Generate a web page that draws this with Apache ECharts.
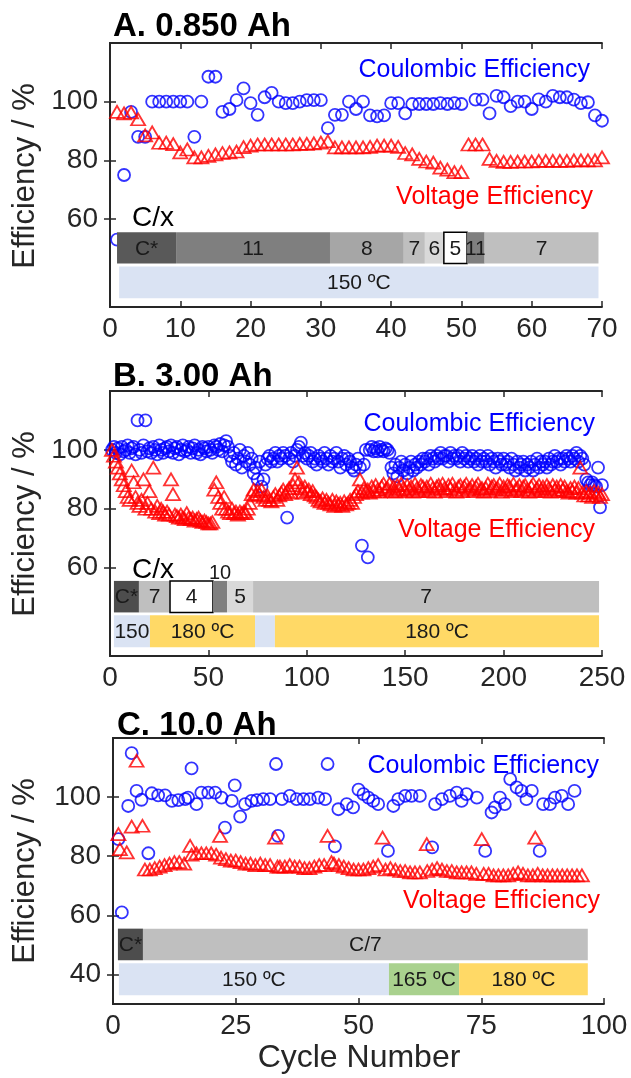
<!DOCTYPE html>
<html>
<head>
<meta charset="utf-8">
<script src="https://cdn.jsdelivr.net/npm/echarts@6/dist/echarts.min.js"></script>
<style>
  html, body { margin: 0; padding: 0; background: #fff; }
  #chart { width: 631px; height: 1078px; }
</style>
</head>
<body>
<div id="chart"></div>
<script>
// ---- panel A: 0.850 Ah (one value per cycle, '-' = no point)
const aCE = [
  53, 75, 96.5, 88, 88, 100, 100, 100, 100, 100,
  100, 88, 100, 108.5, 108.5, 96.5, 97.5, 100.5, 104.5, 99.5,
  95.5, 101.5, 103, 100, 99.5, 99.5, 100, 100.5, 100.5, 100.5,
  91, 95.5, 95.5, 100, 97.5, 100, 95.3, 95, 95.3, 99.5,
  99.5, 96, 99.2, 99.2, 99.2, 99.2, 99.5, 99.2, 99.5, 99.2,
  '-', 100.7, 100.7, 96, 102, 101.5, 98.5, 100, 100, 97.5,
  100.8, 100, 102, 101.5, 101.5, 100.7, 99.5, 99.8, 95.3, 93.5
];
const aVE = [
  96.5, 96, 96.3, 94, 88.5, 89.5, 86, 86, 85.5, 82.7,
  83.7, 81, 81, 81.5, 82, 82.5, 82.7, 83, 84.5, 85,
  85.4, 85.4, 85.4, 85.4, 85.4, 85.4, 85.6, 85.6, 85.8, 86,
  86.5, 84.4, 84.4, 84.4, 84.4, 84.4, 84.6, 85, 85, 85,
  84.6, 82.5, 82, 80.5, 79.6, 79.2, 77.5, 76.8, 76, 76,
  85.4, 85.4, 85.4, 80.5, 79.8, 79.5, 79.5, 79.6, 79.6, 79.6,
  79.8, 79.8, 79.8, 79.8, 79.8, 80, 80, 80, 80, 81
];
const aRates = [[1, 9.4, 'C*'], [9.4, 31.3, '11'], [31.3, 41.8, '8'], [41.8, 44.8, '7'],
  [44.8, 47.5, '6'], [47.5, 50.8, '5'], [50.8, 53.3, '11'], [53.3, 69.5, '7']];
const aRateFill = ['#595959', '#7f7f7f', '#a6a6a6', '#bfbfbf', '#d9d9d9', 'box', '#7f7f7f', '#bfbfbf'];
const aTemps = [[1.3, 69.5, '150 ºC']];
const aTempFill = ['#dae3f3'];

// ---- panel B: 3.00 Ah (one value per cycle)
const bCE = [
  100, 101, 99, 100.5, 98.5, 101, 99.5, 100, 101.5, 99,
  100.5, 101, 98.5, 110, 100, 99, 101.5, 110, 99.5, 100.5,
  99, 101, 100, 98.5, 101.5, 100, 99, 100.5, 101, 99.5,
  101.5, 99, 100.5, 101, 98.5, 100, 101.5, 99.5, 100, 101,
  99, 100.5, 101.5, 99, 100, 98.5, 101, 100.5, 99.5, 101,
  100, 99, 101.5, 101, 100, 102, 99.5, 101.5, 103, 101,
  98, 96, 99, 95, 97, 100, 94, 98, 96, 99,
  95, 97, 92, 94, 90, 96, 87.5, 90, 95, 97,
  98, 96, 97, 99, 96, 98, 97, 99, 98, 77,
  97, 99, 96, 98, 100, 101, 102.5, 98, 99, 97,
  98, 99, 96, 97, 95, 98, 97, 96, 99, 97,
  95, 98, 96, 97, 99, 96, 94, 97, 98, 95,
  97, 96, 94, 93, 95, 97, 94, 67.5, 95, 100,
  63.5, 100, 101, 99.5, 100.5, 99.5, 101, 100, 99.5, 100.5,
  100, 99, 94, 92, 95, 91, 94, 96, 93, 95,
  92, 94, 96, 93, 95, 94, 96, 95, 97, 96,
  97, 95, 98, 97, 96, 98, 97, 99, 97, 98,
  98, 96, 99, 97, 98, 97, 98, 96, 99, 97,
  98, 96, 97, 98, 96, 97, 95, 98, 96, 97,
  96, 98, 95, 97, 96, 94, 97, 96, 95, 97,
  95, 96, 94, 97, 95, 93, 96, 94, 95, 96,
  93, 95, 94, 96, 93, 95, 97, 94, 96, 95,
  96, 94, 97, 95, 96, 98, 96, 97, 95, 97,
  96, 98, 97, 96, 98, 97, 99, 96, 98, 97,
  95, 90, 89, 88, 89, 88, 87.5, 94, 80.5, 88
];
const bVE = [
  100, 98, 96, 94, 92, 90, 88, 86, 84, 83,
  93, 89, 84, 82, 81, 83, 90, 80, 82, 86,
  80, 94, 79, 81, 78.5, 80, 79, 78, 79, 78,
  90, 85, 78, 77.5, 77, 78, 77, 76.5, 78.5, 77,
  76.5, 77, 76, 76.5, 77, 76, 75.5, 76, 75.5, 75,
  75, 75.5, 86.5, 89, 84, 82, 80, 84, 80, 79,
  78.5, 80, 78.5, 79, 78, 79, 78.5, 79, 78.5, 80,
  82, 85, 86.5, 84.5, 86, 85, 86.5, 84, 83, 84.5,
  83, 82.5, 84, 85, 83, 84.5, 85.5, 86.5, 85, 86,
  87, 85.5, 88, 90, 94, 89, 87, 85.5, 87.5, 86,
  86.5, 85, 86, 84.5, 84, 83, 82.5, 83.5, 82, 83,
  82, 81.5, 83, 81, 82.5, 81.5, 82, 81, 82.5, 81.5,
  82, 83, 82, 84, 85, 86, 90, 85.5, 87, 86,
  86.5, 85.5, 87.5, 86, 88, 86.5, 85.8, 87.5, 88.5, 86.5,
  87, 88.5, 86, 87.5, 85.8, 88, 86.5, 88.5, 87, 86,
  88, 86.5, 87.5, 85.8, 88.5, 87, 86, 88, 87.5, 86.5,
  87.5, 86, 88.5, 87, 85.8, 87.5, 88, 86.5, 88.5, 87,
  86, 88, 87, 88.5, 86.5, 85.8, 87.5, 88, 86, 87.5,
  88.5, 86.5, 87, 88, 86, 87.5, 88.5, 86.5, 87, 85.8,
  87, 88.5, 86, 87.5, 88, 86.5, 87, 88.5, 85.8, 87.5,
  86.5, 88, 87.5, 86, 88.5, 86.5, 87, 88, 86, 87.5,
  88, 86.5, 85.8, 87.5, 88.5, 86, 87, 88, 86.5, 87.5,
  86, 88, 87, 85.8, 88, 86.5, 87.5, 86, 88, 86.5,
  87.5, 86, 85.5, 87, 86, 87.5, 85.5, 87, 94, 85.5,
  84.5, 86, 84.5, 85.5, 84, 86, 84.5, 85.5, 84, 85
];
const bRates = [[2, 14.7, 'C*'], [14.7, 30.5, '7'], [30.5, 52.3, '4'], [52.3, 59.5, ''],
  [59.5, 72.7, '5'], [72.7, 248.5, '7']];
const bRateFill = ['#4d4d4d', '#bfbfbf', 'box', '#7f7f7f', '#d9d9d9', '#bfbfbf'];
const bTemps = [[2, 20.3, '150'], [20.3, 73.7, '180 ºC'], [73.7, 83.8, ''], [83.8, 248.5, '180 ºC']];
const bTempFill = ['#dae3f3', '#ffd966', '#dae3f3', '#ffd966'];

// ---- panel C: 10.0 Ah ([cycle, value])
const cCE = [
  [1.1, 85.8], [1.8, 61], [3.1, 97], [3.8, 114.9], [4.8, 102.1], [5.8, 99.1], [7.2, 81], [7.9, 101.3],
  [9.2, 100.6], [10.6, 100.6], [12, 98.7], [13.3, 99], [14.7, 99.3], [15.3, 99.8], [16, 109.7],
  [17, 97.6], [18, 101.5], [19.4, 101.5], [20.8, 101.5], [22.1, 99.8], [22.8, 89.7], [24.2, 98.7],
  [24.8, 104], [25.9, 93.4], [26.9, 97.6], [28.2, 98.7], [29.3, 99], [30.6, 99.3], [32, 99.3],
  [33.2, 111.2], [33.6, 86.9], [34.4, 99.3], [36, 100.4], [37.4, 99.3], [38.8, 99.3], [40.1, 99.3],
  [41.8, 99.8], [43.2, 99.3], [43.7, 111.2], [45.2, 83.3], [45.9, 95.9], [47.6, 97.6], [48.9, 96.5],
  [50, 102.5], [51, 101], [52, 99.8], [53, 98.7], [54, 97.6], [56, 81.8], [57.1, 97], [58.1, 99.3],
  [59.5, 100.4], [60.8, 100.4], [62.5, 100.4], [65, 83], [65.6, 97.6], [67, 99.3], [68.6, 100.4],
  [70, 101.5], [71, 98.7], [72, 101], [74.1, 99.8], [75.8, 81.8], [77.1, 94.8], [77.8, 96.5],
  [78.8, 99.8], [79.8, 97.6], [80.9, 106.1], [82.2, 103.3], [83.2, 102.1], [84.2, 99.3],
  [85.3, 102.1], [86.9, 81.8], [87.6, 97.6], [89, 97.6], [90, 99.8], [91.4, 100.4], [92.7, 97.6],
  [94, 102.1]
];
const cVE = [
  [1.1, 87.5], [1.4, 82.4], [2.8, 81.3], [3.8, 90], [4.8, 112.3], [6, 90.3],
  [6.5, 75.5], [7.5, 75.5], [8.5, 76], [9.5, 76.5], [10.5, 77], [11.5, 77.5], [12.5, 78],
  [13.5, 78], [14.5, 77.5], [15.7, 83.5], [16, 80.5], [17, 81], [18, 81], [19, 81], [20, 81],
  [21, 80.5], [21.8, 86.9], [22, 79.5], [23, 79], [24, 78.5], [25, 78.5], [26, 78], [27, 77.5],
  [28, 77.5], [29, 77], [30, 77.5], [31, 77], [32, 77], [33, 86.3], [33.5, 76.5], [34, 76.5],
  [35, 76.5], [36, 77], [37, 76.5], [38, 76.5], [39, 76], [40, 76], [41, 76.5], [42, 77], [43, 77],
  [43.7, 86.9], [44.5, 78], [45, 77.5], [46, 77], [47, 76.5], [48, 76], [49, 75.5], [50, 75.5],
  [51, 75.5], [52, 76], [53, 76.5], [54, 77], [54.9, 86.3], [55.5, 75.5], [56.5, 76], [57.5, 75.5],
  [58.5, 75], [59.5, 75], [60.5, 74.5], [61.5, 74.5], [62.5, 74.5], [63.9, 84.1], [64, 75],
  [65, 75.5], [66, 76], [67, 75.5], [68, 75], [69, 75], [70, 74.5], [71, 74.5], [72, 74.5],
  [73, 74.5], [74, 74], [75.1, 85.8], [75.5, 74], [76.5, 74], [77.5, 73.5], [78.5, 73.5],
  [79.5, 73.5], [80.5, 73.5], [81.5, 74], [82.5, 74.5], [83.5, 74], [84.5, 73.5], [85.5, 73.5],
  [86, 86.3], [86.5, 74], [87.5, 73.5], [88.5, 73.5], [89.5, 73.5], [90.5, 73.5], [91.5, 73.5],
  [92.5, 73.5], [93.5, 73.5], [94.5, 73.5], [95.5, 73.5]
];
const cRates = [[1, 6.1, 'C*'], [6.1, 96.7, 'C/7']];
const cRateFill = ['#4d4d4d', '#bfbfbf'];
const cTemps = [[1.2, 56.2, '150 ºC'], [56.2, 70.5, '165 ºC'], [70.5, 96.7, '180 ºC']];
const cTempFill = ['#dae3f3', '#a9d18e', '#ffd966'];

// y-extent of the two strips (data units)
const RATE_BAND = [44.8, 55.5];
const TEMP_BAND = [33, 43.8];

const FONT = "'Liberation Sans', Arial, Helvetica, sans-serif";
const INK = '#262626';

const chart = echarts.init(document.getElementById('chart'));

const GRIDS = [
  { left: 110, top: 43, width: 492, height: 264 },
  { left: 110, top: 391, width: 492, height: 265 },
  { left: 113, top: 738, width: 491, height: 266 },
];
const XSPEC = [[70, 10], [250, 50], [100, 25]];
const YTICKS = [[60, 80, 100], [60, 80, 100], [40, 60, 80, 100]];

const xAxes = [], yAxes = [];
GRIDS.forEach((g, i) => {
  const [max, interval] = XSPEC[i];
  const line = { lineStyle: { color: INK, width: 1.8 } };
  const tick = { inside: true, length: 6, lineStyle: { color: INK, width: 1.5 } };
  xAxes.push({
    type: 'value', gridIndex: i, min: 0, max, interval, position: 'bottom',
    axisLine: line, splitLine: { show: false }, axisTick: tick,
    axisLabel: { color: INK, fontSize: 28, fontFamily: FONT, margin: 8 },
  });
  xAxes.push({
    type: 'value', gridIndex: i, min: 0, max, interval, position: 'top',
    axisLine: line, splitLine: { show: false }, axisTick: tick,
    axisLabel: { show: false },
  });
  yAxes.push({
    type: 'value', gridIndex: i, min: 30, max: 120, position: 'left',
    axisLine: line, splitLine: { show: false },
    axisTick: Object.assign({ customValues: YTICKS[i] }, tick),
    axisLabel: { color: INK, fontSize: 28, fontFamily: FONT, margin: 12, customValues: YTICKS[i] },
  });
  yAxes.push({
    type: 'value', gridIndex: i, min: 30, max: 120, position: 'right',
    axisLine: line, splitLine: { show: false },
    axisTick: Object.assign({ customValues: YTICKS[i] }, tick),
    axisLabel: { show: false },
  });
});

const perCycle = (arr) => arr.map((v, k) => [k + 1, v]);

function scatter(i, data, kind) {
  const blue = kind === 'ce';
  return {
    type: 'scatter', xAxisIndex: i * 2, yAxisIndex: i * 2, data,
    symbol: blue ? 'circle' : 'triangle',
    symbolSize: blue ? 12 : [14, 12],
    itemStyle: { color: 'rgba(0,0,0,0)', borderColor: blue ? '#0000ff' : '#ff0000', borderWidth: 1.8 },
    z: blue ? 2 : 3, silent: true, animation: false,
  };
}

function strip(i, segs, fills, band) {
  return {
    type: 'custom', xAxisIndex: i * 2, yAxisIndex: i * 2, z: 5, silent: true, animation: false,
    data: segs.map((s) => [s[0], s[1], band[0], band[1]]),
    encode: { x: [0, 1], y: [2, 3] },
    renderItem: (params, api) => {
      const s = segs[params.dataIndex];
      const fill = fills[params.dataIndex];
      const p0 = api.coord([api.value(0), api.value(3)]);
      const p1 = api.coord([api.value(1), api.value(2)]);
      const box = fill === 'box';
      return {
        type: 'group',
        children: [
          {
            type: 'rect',
            shape: { x: p0[0], y: p0[1], width: p1[0] - p0[0], height: p1[1] - p0[1] },
            style: box ? { fill: '#fff', stroke: '#000', lineWidth: 1.5 } : { fill },
          },
          {
            type: 'text', x: (p0[0] + p1[0]) / 2, y: (p0[1] + p1[1]) / 2 + 1,
            style: { text: s[2], fill: '#1a1a1a', font: `21px ${FONT}`, align: 'center', verticalAlign: 'middle' },
          },
        ],
      };
    },
  };
}

const series = [
  scatter(0, perCycle(aCE), 'ce'), scatter(0, perCycle(aVE), 've'),
  strip(0, aRates, aRateFill, RATE_BAND), strip(0, aTemps, aTempFill, TEMP_BAND),
  scatter(1, perCycle(bCE), 'ce'), scatter(1, perCycle(bVE), 've'),
  strip(1, bRates, bRateFill, RATE_BAND), strip(1, bTemps, bTempFill, TEMP_BAND),
  scatter(2, cCE, 'ce'), scatter(2, cVE, 've'),
  strip(2, cRates, cRateFill, RATE_BAND), strip(2, cTemps, cTempFill, TEMP_BAND),
];

const txt = (x, y, text, size, fill, extra) => ({
  type: 'text', x, y, z: 10, silent: true,
  style: Object.assign({ text, fill, font: `${size}px ${FONT}`, verticalAlign: 'middle' }, extra || {}),
});

const graphic = [
  txt(113, 27, 'A. 0.850 Ah', 33, '#000', { font: `bold 33px ${FONT}` }),
  txt(113, 377, 'B. 3.00 Ah', 33, '#000', { font: `bold 33px ${FONT}` }),
  txt(117, 726, 'C. 10.0 Ah', 33, '#000', { font: `bold 33px ${FONT}` }),
  txt(590, 70, 'Coulombic Efficiency', 25, '#0000ff', { align: 'right' }),
  txt(593, 197, 'Voltage Efficiency', 25, '#ff0000', { align: 'right' }),
  txt(132, 218, 'C/x', 28, '#000'),
  txt(595, 424, 'Coulombic Efficiency', 25, '#0000ff', { align: 'right' }),
  txt(595, 530, 'Voltage Efficiency', 25, '#ff0000', { align: 'right' }),
  txt(132, 570, 'C/x', 28, '#000'),
  txt(220, 573, '10', 20, '#1a1a1a', { align: 'center' }),
  txt(599, 766, 'Coulombic Efficiency', 25, '#0000ff', { align: 'right' }),
  txt(600, 901, 'Voltage Efficiency', 25, '#ff0000', { align: 'right' }),
  txt(359, 1058, 'Cycle Number', 32, INK, { align: 'center' }),
];
[176, 524, 871].forEach((cy) => {
  graphic.push({
    type: 'text', x: 25, y: cy, rotation: Math.PI / 2, z: 10, silent: true,
    style: { text: 'Efficiency / %', fill: INK, font: `31px ${FONT}`, align: 'center', verticalAlign: 'middle' },
  });
});

chart.setOption({
  animation: false,
  grid: GRIDS,
  xAxis: xAxes,
  yAxis: yAxes,
  series,
  graphic,
});
</script>
</body>
</html>
